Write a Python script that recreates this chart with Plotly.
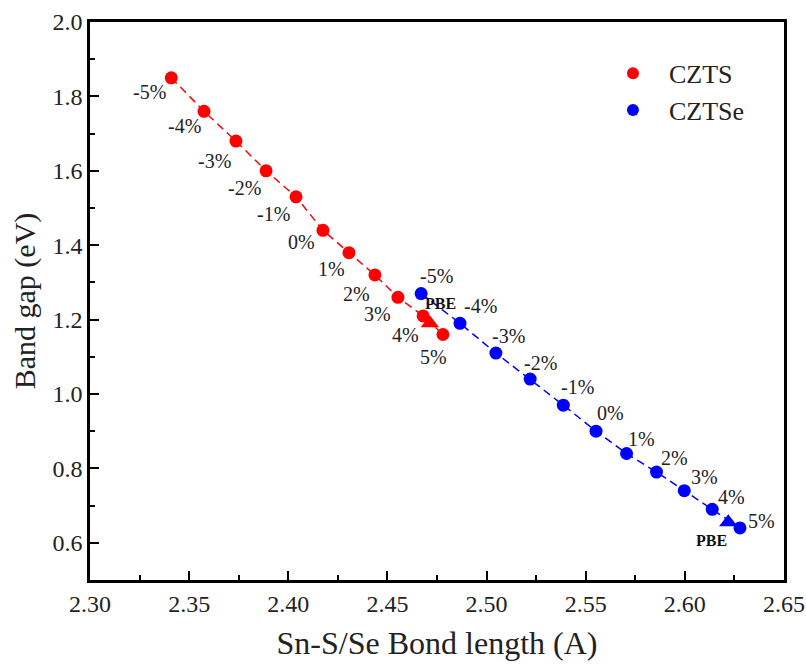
import plotly.graph_objects as go

strain_labels = ["-5%", "-4%", "-3%", "-2%", "-1%", "0%", "1%", "2%", "3%", "4%", "5%"]

czts_bond = [2.341, 2.3575, 2.3736, 2.3888, 2.4039, 2.4175, 2.4306, 2.4437, 2.4553, 2.468, 2.478]
czts_gap = [1.85, 1.76, 1.68, 1.60, 1.53, 1.44, 1.38, 1.32, 1.26, 1.21, 1.16]

cztse_bond = [2.467, 2.4866, 2.5047, 2.522, 2.5387, 2.5552, 2.5706, 2.5857, 2.5997, 2.6138, 2.6278]
cztse_gap = [1.27, 1.19, 1.11, 1.04, 0.97, 0.90, 0.84, 0.79, 0.74, 0.69, 0.64]

pbe_czts_bond = [2.4714]
pbe_czts_gap = [1.19]
pbe_cztse_bond = [2.6219]
pbe_cztse_gap = [0.655]
pbe_label = "PBE"

RED = "#ff0000"
BLUE = "#0000ff"
FONT = "Times New Roman, Liberation Serif, serif"
TXT = "#222"

fig = go.Figure()

fig.add_trace(go.Scatter(x=czts_bond, y=czts_gap, mode="lines", showlegend=False,
                         line=dict(color=RED, width=1.5, dash="8px,5px")))
fig.add_trace(go.Scatter(x=cztse_bond, y=cztse_gap, mode="lines", showlegend=False,
                         line=dict(color=BLUE, width=1.5, dash="8px,5px")))
fig.add_trace(go.Scatter(x=czts_bond, y=czts_gap, mode="markers", name="CZTS",
                         marker=dict(color=RED, size=13)))
fig.add_trace(go.Scatter(x=cztse_bond, y=cztse_gap, mode="markers", name="CZTSe",
                         marker=dict(color=BLUE, size=13)))
fig.add_trace(go.Scatter(x=pbe_czts_bond, y=pbe_czts_gap, mode="markers", showlegend=False,
                         marker=dict(color=RED, size=16, symbol="triangle-up")))
fig.add_trace(go.Scatter(x=pbe_cztse_bond, y=pbe_cztse_gap, mode="markers", showlegend=False,
                         marker=dict(color=BLUE, size=16, symbol="triangle-up")))

# label offsets (pixels): x right, y up
red_off = [(-22, -14), (-20, -15), (-21, -20), (-22, -17), (-23, -17), (-21, -12),
           (-17, -16), (-18, -19), (-20, -17), (-18, -19), (-9, -23)]
blue_off = [(15, 18), (20, 17), (13, 17), (10, 16), (14, 18), (14, 18),
            (15, 15), (18, 14), (20, 14), (19, 12), (22, 7)]

annotations = []
for x, y, t, (dx, dy) in zip(czts_bond, czts_gap, strain_labels, red_off):
    annotations.append(dict(x=x, y=y, text=t, showarrow=False, xshift=dx, yshift=dy,
                            font=dict(family=FONT, size=20, color=TXT)))
for x, y, t, (dx, dy) in zip(cztse_bond, cztse_gap, strain_labels, blue_off):
    annotations.append(dict(x=x, y=y, text=t, showarrow=False, xshift=dx, yshift=dy,
                            font=dict(family=FONT, size=20, color=TXT)))
annotations.append(dict(x=pbe_czts_bond[0], y=pbe_czts_gap[0], text="<b>" + pbe_label + "</b>",
                        showarrow=False, xshift=11, yshift=20,
                        font=dict(family=FONT, size=16, color="#111")))
annotations.append(dict(x=pbe_cztse_bond[0], y=pbe_cztse_gap[0], text="<b>" + pbe_label + "</b>",
                        showarrow=False, xshift=-17, yshift=-18,
                        font=dict(family=FONT, size=16, color="#111")))

axis_common = dict(showline=True, linecolor="black", linewidth=2.5, mirror=True,
                   ticks="inside", ticklen=9, tickwidth=2, tickcolor="black",
                   showgrid=False, zeroline=False, automargin=False,
                   tickfont=dict(family=FONT, size=24, color=TXT))

fig.update_layout(
    width=806, height=666,
    paper_bgcolor="white", plot_bgcolor="white",
    margin=dict(l=90, r=22, t=22, b=86),
    font=dict(family=FONT, color=TXT),
    annotations=annotations,
    legend=dict(x=0.7305, y=0.95, xanchor="left", yanchor="top",
                font=dict(family=FONT, size=26, color=TXT), itemwidth=62,
                bgcolor="rgba(0,0,0,0)", itemsizing="constant", tracegroupgap=0),
    xaxis=dict(range=[2.30, 2.65], tick0=2.30, dtick=0.05, tickformat=".2f",
               minor=dict(ticks="inside", ticklen=5, tickwidth=2, tickcolor="black", dtick=0.025),
               title=dict(text="Sn-S/Se Bond length (A)", font=dict(family=FONT, size=32, color=TXT),
                          standoff=17),
               **axis_common),
    yaxis=dict(range=[0.5, 2.0], tick0=0.6, dtick=0.2, tickformat=".1f",
               minor=dict(ticks="inside", ticklen=5, tickwidth=2, tickcolor="black", dtick=0.1),
               title=dict(text="Band gap (eV)", font=dict(family=FONT, size=30, color=TXT),
                          standoff=8),
               **axis_common),
)

fig.write_html("out.html", config={"displayModeBar": False},
               post_script="document.body.style.margin='0';")
